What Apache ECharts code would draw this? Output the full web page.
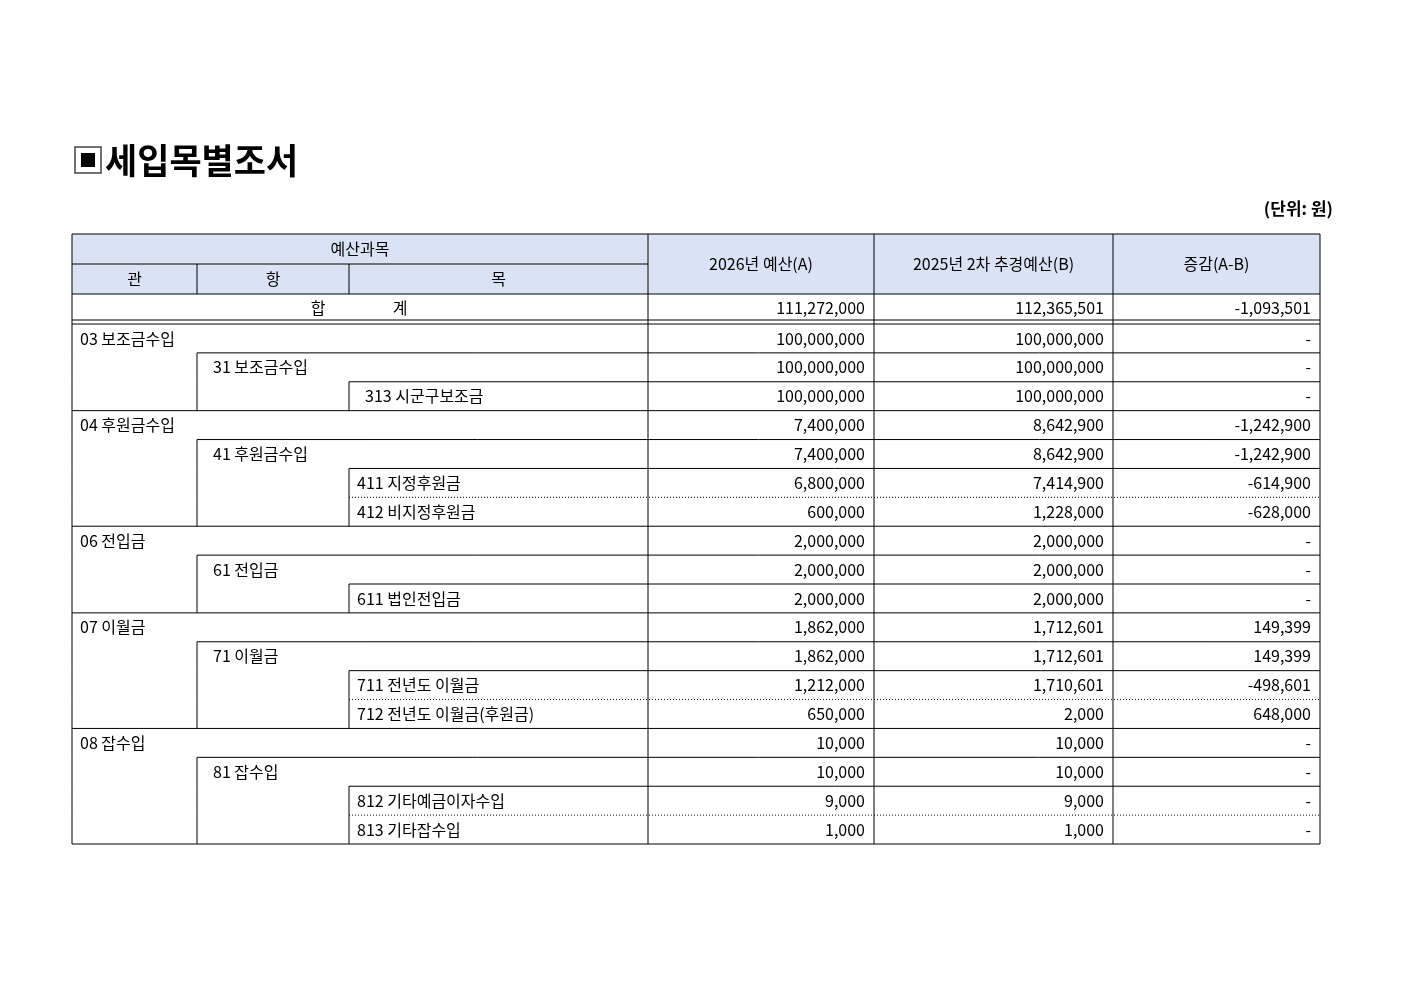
<!DOCTYPE html>
<html><head><meta charset="utf-8">
<script src="https://cdn.jsdelivr.net/npm/echarts@6/dist/echarts.min.js"></script>
<style>html,body{margin:0;padding:0;background:#fff}#c{width:1403px;height:992px}</style>
</head><body><div id="c"></div>
<script>
const title = '세입목별조서';
const unitText = '(단위: 원)';
const headTop = '예산과목';
const headSub = ['관', '항', '목'];
const headCols = ['2026년 예산(A)', '2025년 2차 추경예산(B)', '증감(A-B)'];
const totalRow = ['111,272,000', '112,365,501', '-1,093,501'];
const levels = [1,2,3, 1,2,3,3, 1,2,3, 1,2,3,3, 1,2,3,3];
const labels = ['03 보조금수입','31 보조금수입','313 시군구보조금',
 '04 후원금수입','41 후원금수입','411 지정후원금','412 비지정후원금',
 '06 전입금','61 전입금','611 법인전입금',
 '07 이월금','71 이월금','711 전년도 이월금','712 전년도 이월금(후원금)',
 '08 잡수입','81 잡수입','812 기타예금이자수입','813 기타잡수입'];
const budgetA = ['100,000,000','100,000,000','100,000,000','7,400,000','7,400,000','6,800,000','600,000',
 '2,000,000','2,000,000','2,000,000','1,862,000','1,862,000','1,212,000','650,000','10,000','10,000','9,000','1,000'];
const budgetB = ['100,000,000','100,000,000','100,000,000','8,642,900','8,642,900','7,414,900','1,228,000',
 '2,000,000','2,000,000','2,000,000','1,712,601','1,712,601','1,710,601','2,000','10,000','10,000','9,000','1,000'];
const diffAB = ['-','-','-','-1,242,900','-1,242,900','-614,900','-628,000','-','-','-','149,399','149,399','-498,601','648,000','-','-','-','-'];

const X = [72,197,349,648,874,1113,1320];
const FONT = '"Noto Sans CJK KR", sans-serif';
const g = [];
function line(x1,y1,x2,y2,dash,w){g.push({type:'line',shape:{x1,y1,x2,y2},style:{stroke:'#000',lineWidth:w||1,lineDash:dash?[1,2]:null}});}
function rect(x,y,w,h,fill){g.push({type:'rect',shape:{x,y,width:w,height:h},style:{fill,stroke:null}});}
function text(t,x,y,align,size,weight){g.push({type:'text',x,y,style:{text:t,fill:'#000',font:(weight||'normal')+' '+(size||16)+'px '+FONT,textAlign:align||'left',textVerticalAlign:'middle'}});}

// title
g.push({type:'rect',shape:{x:75,y:147,width:26,height:26},style:{fill:'#fff',stroke:'#444',lineWidth:1.5}});
rect(81,153,14,14,'#000');
text(title,105,161,'left',35,'bold');
text(unitText,1333,209,'right',17,'bold');

// header
const h0=234,h1=264,h2=294;
rect(X[0],h0,X[6]-X[0],h2-h0,'#dae3f5');
text(headTop,(X[0]+X[3])/2,h0+15,'center');
for(let i=0;i<3;i++){text(headSub[i],(X[i]+X[i+1])/2,h1+15,'center');}
for(let i=0;i<3;i++){text(headCols[i],(X[i+3]+X[i+4])/2,h0+30,'center');}
line(X[0],h0,X[6],h0,false,1.2);
line(X[0],h1,X[3],h1);
line(X[0],h2,X[6],h2);
for(let i=0;i<7;i++){ if(i===1||i===2) line(X[i],h1,X[i],h2); else line(X[i],h0,X[i],h2); }
// total row
const t1=320,t2=324;
text('합',318,308,'center');text('계',400,308,'center');
for(let i=0;i<3;i++) text(totalRow[i],X[i+4]-9,308,'right');
line(X[0],t1,X[6],t1);line(X[0],t2,X[6],t2);
[0,3,4,5,6].forEach(i=>line(X[i],h2,X[i],t2));

// data rows
const rh=(844-t2)/labels.length;
const lx=[0,80,213,357];
for(let r=0;r<labels.length;r++){
  const y=t2+r*rh, cy=y+rh/2, lv=levels[r];
  const dotted = lv===3 && r>0 && levels[r-1]===3;
  if(r>0) line(X[lv-1],y,X[6],y,dotted);
  text(labels[r],lx[lv]+(labels[r].startsWith('313')?8:0),cy,'left');
  text(budgetA[r],X[4]-9,cy,'right');
  text(budgetB[r],X[5]-9,cy,'right');
  text(diffAB[r],X[6]-9,cy,'right');
  // verticals
  line(X[0],y,X[0],y+rh);
  if(lv>=2) line(X[1],y,X[1],y+rh);
  if(lv>=3) line(X[2],y,X[2],y+rh);
  [3,4,5,6].forEach(i=>line(X[i],y,X[i],y+rh));
}
line(X[0],844,X[6],844);

const chart=echarts.init(document.getElementById('c'));
chart.setOption({animation:false,graphic:{elements:g}});
</script></body></html>
